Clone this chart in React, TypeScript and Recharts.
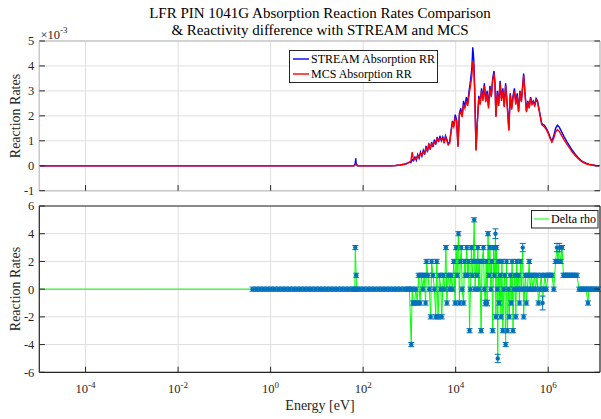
import {
  CartesianGrid,
  ComposedChart,
  ErrorBar,
  Line,
  Scatter,
  XAxis,
  YAxis,
} from 'recharts'

const FONT = '"Liberation Serif", "Times New Roman", serif'
const INK = '#262626'
const GRID = '#dfdfdf'
const TOP_FRAME = '#c8c8c8'
const TICK_LEN = 5.6

const energyDomain: [number, number] = [1e-5, 10 ** 7.12]
const energyTicks = [1e-4, 1e-2, 1, 1e2, 1e4, 1e6]
const energyTickExp = ['-4', '-2', '0', '2', '4', '6']
const rrTicks = [-1, 0, 1, 2, 3, 4, 5]
const rhoTicks = [-6, -4, -2, 0, 2, 4, 6]

// absorption reaction rates, in units of 1e-3, against log10(E / eV)
const rrExp = [
  -5, -3, -1, 1, 1.8, 1.83, 1.84, 1.85, 1.88, 2.3,
  2.6, 2.7, 2.8, 2.9, 2.95, 3.0, 3.03, 3.06, 3.09, 3.12,
  3.15, 3.18, 3.21, 3.24, 3.27, 3.3, 3.33, 3.36, 3.39, 3.42,
  3.45, 3.48, 3.51, 3.54, 3.57, 3.6, 3.63, 3.66, 3.69, 3.72,
  3.75, 3.78, 3.81, 3.84, 3.87, 3.9, 3.93, 3.96, 3.99, 4.02,
  4.05, 4.08, 4.11, 4.14, 4.17, 4.2, 4.23, 4.26, 4.29, 4.32,
  4.35, 4.37, 4.39, 4.41, 4.44, 4.47, 4.5, 4.53, 4.56, 4.59,
  4.62, 4.65, 4.68, 4.71, 4.74, 4.77, 4.8, 4.83, 4.85, 4.87,
  4.9, 4.93, 4.96, 4.99, 5.02, 5.05, 5.08, 5.11, 5.15, 5.18,
  5.21, 5.24, 5.27, 5.3, 5.33, 5.36, 5.39, 5.42, 5.47, 5.5,
  5.53, 5.56, 5.59, 5.62, 5.65, 5.68, 5.71, 5.74, 5.77, 5.8,
  5.83, 5.86, 5.89, 5.92, 5.96, 6.0, 6.04, 6.08, 6.12, 6.16,
  6.2, 6.24, 6.28, 6.34, 6.4, 6.46, 6.52, 6.58, 6.64, 6.7,
  6.76, 6.82, 6.88, 6.95, 7.02, 7.1,
]
const streamRR = [
  0, 0, 0, 0, 0, 0.1, 0.3, 0.08, 0, 0,
  0, 0.01, 0.03, 0.06, 0.1, 0.15, 0.12, 0.25, 0.2, 0.35,
  0.22, 0.45, 0.3, 0.55, 0.38, 0.62, 0.45, 0.8, 0.55, 0.9,
  0.65, 0.95, 0.75, 1.05, 0.85, 1.15, 0.95, 1.2, 1.0, 1.15,
  0.95, 1.2, 1.05, 0.85, 0.95, 1.4, 1.8, 1.6, 2.05, 1.85,
  0.8, 2.1, 2.3, 2.0, 2.6, 2.35, 2.75, 2.5, 3.0, 3.4,
  3.9, 4.75, 4.3, 3.2, 0.65, 1.8, 2.8, 2.5, 3.1, 2.7,
  3.3, 2.6, 3.0, 2.4, 3.2, 2.8, 3.5, 3.8, 3.3, 2.0,
  3.0, 2.5, 3.4, 2.7, 3.1, 2.4, 3.3, 2.6, 1.45, 2.9,
  2.3, 2.8, 3.1, 2.5, 2.9, 2.2, 3.0, 2.6, 3.7, 2.9,
  2.2, 2.6, 2.35, 2.75, 2.5, 2.6, 2.45, 2.7, 2.6, 2.3,
  2.0, 1.7, 1.65, 1.62, 1.5, 1.35, 1.15, 0.98, 1.2, 1.5,
  1.63, 1.55, 1.4, 1.18, 0.98, 0.8, 0.62, 0.47, 0.34, 0.23,
  0.15, 0.1, 0.06, 0.03, 0.01, 0,
]
const mcsRR = [
  0, 0, 0, 0, 0, 0.04, 0.06, 0.03, 0, 0,
  0, 0.01, 0.03, 0.07, 0.09, 0.14, 0.18, 0.55, 0.22, 0.3,
  0.28, 0.4, 0.35, 0.5, 0.42, 0.55, 0.5, 0.72, 0.6, 0.85,
  0.7, 0.88, 0.8, 0.95, 0.9, 1.1, 1.0, 1.1, 1.05, 1.1,
  0.9, 1.15, 1.0, 0.85, 0.9, 1.35, 1.7, 1.55, 1.9, 1.8,
  0.75, 2.0, 2.2, 1.95, 2.45, 2.3, 2.6, 2.4, 2.85, 3.2,
  3.6, 4.2, 4.05, 3.0, 0.6, 1.75, 2.7, 2.45, 3.0, 2.6,
  3.2, 2.55, 2.9, 2.3, 3.1, 2.75, 3.4, 3.7, 3.25, 1.95,
  2.9, 2.4, 3.3, 2.6, 3.0, 2.35, 3.2, 2.5, 1.4, 2.85,
  2.25, 2.7, 3.0, 2.45, 2.8, 2.15, 2.95, 2.55, 3.6, 2.85,
  2.15, 2.55, 2.3, 2.7, 2.45, 2.55, 2.4, 2.65, 2.55, 2.25,
  1.95, 1.65, 1.6, 1.55, 1.45, 1.3, 1.1, 0.95, 1.1, 1.35,
  1.45, 1.38, 1.25, 1.05, 0.88, 0.72, 0.55, 0.42, 0.3, 0.2,
  0.13, 0.08, 0.05, 0.03, 0.01, 0,
]

// reactivity difference per group; err = null means no error bar drawn
const rhoExp = [
  -5, -2.5,
  -0.39, -0.31, -0.23, -0.15, -0.07, 0.01, 0.09, 0.17, 0.25, 0.33,
  0.41, 0.49, 0.57, 0.65, 0.73, 0.81, 0.89, 0.97, 1.05, 1.13,
  1.21, 1.29, 1.37, 1.45, 1.53, 1.61, 1.69, 1.77, 1.82, 1.83,
  1.85, 1.86, 1.93, 2.01, 2.09, 2.17, 2.25, 2.33, 2.41, 2.49,
  2.57, 2.65, 2.73, 2.81, 2.89, 2.96,
  3.0, 3.04, 3.06, 3.08, 3.11, 3.14, 3.17, 3.2, 3.23, 3.26,
  3.29, 3.32, 3.35, 3.37, 3.4, 3.43, 3.46, 3.48, 3.51, 3.54,
  3.57, 3.59, 3.62, 3.65, 3.68, 3.7, 3.73, 3.76, 3.79, 3.81,
  3.84, 3.87, 3.9, 3.93, 3.96, 3.99, 4.01, 4.03, 4.06, 4.08,
  4.1, 4.12, 4.14, 4.17, 4.19, 4.21, 4.24, 4.26, 4.28, 4.3,
  4.32, 4.34, 4.36, 4.38, 4.4, 4.42, 4.44, 4.46, 4.48, 4.5,
  4.52, 4.55, 4.57, 4.6, 4.62, 4.64, 4.66, 4.68, 4.7, 4.72,
  4.74, 4.76, 4.78, 4.8, 4.82, 4.84, 4.86, 4.87, 4.88, 4.9,
  4.91, 4.92, 4.94, 4.96, 4.98, 5.0, 5.02, 5.04, 5.06, 5.08,
  5.1, 5.12, 5.14, 5.16, 5.18, 5.2, 5.22, 5.24, 5.26, 5.28,
  5.3, 5.32, 5.34, 5.36, 5.38, 5.4, 5.42, 5.45, 5.47, 5.49,
  5.51, 5.53, 5.55, 5.57, 5.59, 5.61, 5.64, 5.67, 5.7, 5.73,
  5.76, 5.79, 5.82, 5.85, 5.88, 5.9, 5.93, 5.96, 6.0, 6.04,
  6.08, 6.12, 6.16, 6.19, 6.21, 6.24, 6.27, 6.3, 6.33, 6.37,
  6.42, 6.47, 6.52, 6.57, 6.62, 6.67, 6.72, 6.77, 6.82, 6.86,
  6.88, 6.93, 6.98, 7.04, 7.1,
]
const deltaRho = [
  0, 0,
  0, 0, 0, 0, 0, 0, 0, 0, 0, 0,
  0, 0, 0, 0, 0, 0, 0, 0, 0, 0,
  0, 0, 0, 0, 0, 0, 0, 0, 0, 3,
  1, 0, 0, 0, 0, 0, 0, 0, 0, 0,
  0, 0, 0, 0, 0, 0,
  0, -4, 0, -1, -1, 0, -1, 1, -1, 1,
  0, 1, -1, 2, 1, 0, -2, 2, 1, 0,
  -2, 2, -2, 1, 0, -2, 1, 0, 3, -1,
  1, 0, 1, 0, 2, -1, 3, 1, 4, -1,
  2, 3, 0, -1, 2, 1, 3, 1, 2, -3,
  0, 3, 1, 2, 5, 0, 2, 1, 3, 0,
  2, -3, 2, 3, 0, -1, 2, -1, 4, 1,
  3, 0, 2, -3, 3, 1, 4, -2, 3, 0,
  -5, 2, -1, 1, -2, 2, -3, 0, 1, -4,
  2, -3, 0, -2, 1, -1, 2, -3, 0, 1,
  -2, 2, 0, 1, -1, 2, 0, 3, -2, 0,
  1, -1, 0, 1, 2, 0, 1, 0, 1, 0,
  1, -1, 0, 1, -1, 0, 1, 0, 1, 1,
  1, 0, 2, 3, 2, 3, 2, 3, 1, 1,
  1, 1, 1, 1, 1, 0, 0, 0, 0, -1,
  0, 0, 0, 0, 0,
]
const rhoErr: (number | null)[] = [
  null, null,
  0.15, 0.15, 0.15, 0.15, 0.15, 0.15, 0.15, 0.15, 0.15, 0.15,
  0.15, 0.15, 0.15, 0.15, 0.15, 0.15, 0.15, 0.15, 0.15, 0.15,
  0.15, 0.15, 0.15, 0.15, 0.15, 0.15, 0.15, 0.15, 0.15, 0.15,
  0.15, 0.15, 0.15, 0.15, 0.15, 0.15, 0.15, 0.15, 0.15, 0.15,
  0.15, 0.15, 0.15, 0.15, 0.15, 0.15,
  0.15, 0.15, 0.15, 0.15, 0.15, 0.15, 0.15, 0.15, 0.15, 0.15,
  0.15, 0.15, 0.15, 0.15, 0.15, 0.15, 0.15, 0.15, 0.15, 0.15,
  0.15, 0.15, 0.15, 0.15, 0.15, 0.15, 0.15, 0.15, 0.15, 0.15,
  0.15, 0.15, 0.15, 0.15, 0.15, 0.15, 0.15, 0.15, 0.15, 0.15,
  0.15, 0.15, 0.15, 0.15, 0.15, 0.15, 0.15, 0.15, 0.15, 0.15,
  0.15, 0.15, 0.15, 0.15, 0.15, 0.15, 0.15, 0.15, 0.15, 0.15,
  0.15, 0.15, 0.15, 0.15, 0.15, 0.2, 0.15, 0.2, 0.15, 0.15,
  0.15, 0.15, 0.15, 0.15, 0.15, 0.15, 0.35, 0.15, 0.15, 0.15,
  0.3, 0.15, 0.15, 0.15, 0.15, 0.15, 0.15, 0.15, 0.15, 0.15,
  0.15, 0.15, 0.15, 0.15, 0.15, 0.15, 0.15, 0.15, 0.15, 0.15,
  0.15, 0.15, 0.15, 0.15, 0.15, 0.15, 0.15, 0.3, 0.15, 0.15,
  0.15, 0.15, 0.15, 0.15, 0.15, 0.15, 0.15, 0.15, 0.15, 0.15,
  0.15, 0.15, 0.15, 0.15, 0.5, 0.15, 0.15, 0.15, 0.15, 0.15,
  0.15, 0.15, 0.15, 0.3, 0.15, 0.3, 0.15, 0.15, 0.15, 0.15,
  0.15, 0.15, 0.15, 0.15, 0.15, 0.15, 0.15, 0.15, 0.15, 0.15,
  0.15, 0.15, 0.15, 0.15, 0.15,
]

const rrData = rrExp.map((e, i) => ({
  energy: 10 ** e,
  stream: streamRR[i],
  mcs: mcsRR[i],
}))
const rhoData = rhoExp.map((e, i) => ({
  energy: 10 ** e,
  value: deltaRho[i],
  err: rhoErr[i],
}))
const rhoMarkers = rhoData.filter((d) => d.err !== null)

type TickArgs = { x: number; y: number; payload: { value: number } }

const expLabel = (v: number) => {
  const i = energyTicks.findIndex((t) => Math.abs(Math.log10(t) - Math.log10(v)) < 1e-6)
  return i >= 0 ? energyTickExp[i] : ''
}

// MATLAB-style inward tick marks
const xTick = (dir: 1 | -1, withLabel: boolean) =>
  function XTick({ x, y, payload }: TickArgs) {
    return (
      <g>
        <line x1={x} y1={y} x2={x} y2={y + dir * TICK_LEN} stroke={INK} strokeWidth={1} />
        {withLabel && (
          <text x={x} y={y + 21} textAnchor="middle" fontFamily={FONT} fontSize={12.5} fill={INK}>
            10
            <tspan dy={-5.5} fontSize={9}>
              {expLabel(payload.value)}
            </tspan>
          </text>
        )}
      </g>
    )
  }

const yTick = (dir: 1 | -1, withLabel: boolean) =>
  function YTick({ x, y, payload }: TickArgs) {
    return (
      <g>
        <line x1={x} y1={y} x2={x + dir * TICK_LEN} y2={y} stroke={INK} strokeWidth={1} />
        {withLabel && (
          <text x={x - 5} y={y} dy="0.35em" textAnchor="end" fontFamily={FONT} fontSize={12.5} fill={INK}>
            {payload.value}
          </text>
        )}
      </g>
    )
  }

const axisCommon = {
  tickSize: 0,
  tickMargin: 0,
  tickLine: false,
  interval: 0 as const,
  allowDataOverflow: true,
}

// axes of size 0 are not drawn by Recharts, so the frame axes get 1px
function Frame({ yDomain, yTicks, frame, frameWidth, labels }: {
  yDomain: [number, number]
  yTicks: number[]
  frame: string
  frameWidth: number
  labels: boolean
}) {
  const line = { stroke: frame, strokeWidth: frameWidth }
  return [
    <CartesianGrid key="grid" stroke={GRID} strokeWidth={1} />,
    <XAxis
      key="xb"
      dataKey="energy"
      type="number"
      scale="log"
      domain={energyDomain}
      ticks={energyTicks}
      height={1}
      axisLine={line}
      tick={xTick(-1, labels)}
      {...axisCommon}
    />,
    <XAxis
      key="xt"
      xAxisId="top"
      orientation="top"
      type="number"
      scale="log"
      domain={energyDomain}
      ticks={energyTicks}
      height={1}
      axisLine={line}
      tick={xTick(1, false)}
      {...axisCommon}
    />,
    <YAxis
      key="yl"
      type="number"
      domain={yDomain}
      ticks={yTicks}
      width={39.3}
      axisLine={line}
      tick={yTick(1, true)}
      {...axisCommon}
    />,
    <YAxis
      key="yr"
      yAxisId="right"
      orientation="right"
      type="number"
      domain={yDomain}
      ticks={yTicks}
      width={1}
      axisLine={line}
      tick={yTick(-1, false)}
      {...axisCommon}
    />,
  ]
}

export default function App() {
  return (
    <div
      style={{
        position: 'absolute',
        left: 0,
        top: 0,
        width: 601,
        height: 419,
        background: '#fff',
        fontFamily: FONT,
      }}
    >
      <div style={{ position: 'absolute', left: 0, top: 0 }}>
        <ComposedChart width={601} height={200} data={rrData} margin={{ top: 40, right: 0, bottom: 8.3, left: 0 }}>
          {Frame({ yDomain: [-1, 5], yTicks: rrTicks, frame: TOP_FRAME, frameWidth: 1.5, labels: false })}
          <Line
            dataKey="stream"
            type="linear"
            stroke="#0000ff"
            strokeWidth={1.4}
            dot={false}
            activeDot={false}
            isAnimationActive={false}
          />
          <Line
            dataKey="mcs"
            type="linear"
            stroke="#ff0000"
            strokeWidth={1.4}
            dot={false}
            activeDot={false}
            isAnimationActive={false}
          />
        </ComposedChart>
      </div>
      <div style={{ position: 'absolute', left: 0, top: 200 }}>
        <ComposedChart width={601} height={219} margin={{ top: 5, right: 0, bottom: 45.7, left: 0 }}>
          {Frame({ yDomain: [-6, 6], yTicks: rhoTicks, frame: INK, frameWidth: 1.2, labels: true })}
          <Line
            data={rhoData}
            dataKey="value"
            type="linear"
            stroke="#00ff00"
            strokeWidth={1}
            dot={false}
            activeDot={false}
            isAnimationActive={false}
          />
          <Scatter
            data={rhoMarkers}
            dataKey="value"
            isAnimationActive={false}
            shape={(p: { cx?: number; cy?: number }) => (
              <circle cx={p.cx} cy={p.cy} r={2.2} fill="#0072bd" />
            )}
          >
            <ErrorBar dataKey="err" direction="y" width={3} stroke="#0072bd" strokeWidth={1} isAnimationActive={false} />
          </Scatter>
        </ComposedChart>
      </div>
      <svg
        width={601}
        height={419}
        style={{ position: 'absolute', left: 0, top: 0, pointerEvents: 'none', fontFamily: FONT }}
      >
        <text x={320} y={17.5} textAnchor="middle" fontSize={15} fill="#000">
          LFR PIN 1041G Absorption Reaction Rates Comparison
        </text>
        <text x={320} y={35} textAnchor="middle" fontSize={15} fill="#000">
          & Reactivity difference with STREAM and MCS
        </text>
        <text x={40.5} y={38.5} fontSize={12.5} fill={INK}>
          ×10
          <tspan dy={-5.5} fontSize={9}>
            -3
          </tspan>
        </text>
        <text transform="translate(20,116) rotate(-90)" textAnchor="middle" fontSize={14} fill={INK}>
          Reaction Rates
        </text>
        <text transform="translate(20,289) rotate(-90)" textAnchor="middle" fontSize={14} fill={INK}>
          Reaction Rates
        </text>
        <text x={320} y={409.5} textAnchor="middle" fontSize={14} fill={INK}>
          Energy [eV]
        </text>

        <rect x={289.5} y={50.5} width={148} height={32} fill="#fff" stroke={INK} strokeWidth={1} />
        <line x1={293} y1={59} x2={309} y2={59} stroke="#0000ff" strokeWidth={1.4} />
        <text x={311} y={63} fontSize={12} fill="#000">
          STREAM Absorption RR
        </text>
        <line x1={293} y1={74} x2={309} y2={74} stroke="#ff0000" strokeWidth={1.4} />
        <text x={311} y={78} fontSize={12} fill="#000">
          MCS Absorption RR
        </text>

        <rect x={531.5} y={210.5} width={66.5} height={17.5} fill="#fff" stroke={INK} strokeWidth={1} />
        <line x1={534} y1={219} x2={549} y2={219} stroke="#00ff00" strokeWidth={1} />
        <text x={551} y={223} fontSize={12} fill="#000">
          Delta rho
        </text>
      </svg>
    </div>
  )
}
